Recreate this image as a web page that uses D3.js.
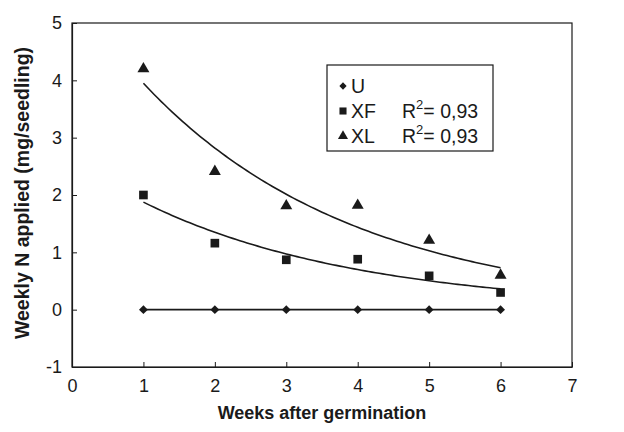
<!DOCTYPE html>
<html>
<head>
<meta charset="utf-8">
<script src="https://cdn.jsdelivr.net/npm/d3@7"></script>
<style>
  body { margin: 0; background: #fff; }
  svg { font-family: "Liberation Sans", Arial, sans-serif; }
</style>
</head>
<body>
<svg id="chart" width="624" height="432"></svg>
<script>
// weeks after germination
const weeks = [1, 2, 3, 4, 5, 6];
// weekly N applied, mg/seedling
const seriesU = [0, 0, 0, 0, 0, 0];
const seriesXF = [2.0, 1.16, 0.87, 0.88, 0.59, 0.30];
const seriesXL = [4.2, 2.41, 1.81, 1.82, 1.21, 0.60];
const xTicks = [0, 1, 2, 3, 4, 5, 6, 7];
const yTicks = [-1, 0, 1, 2, 3, 4, 5];

const svg = d3.select("#chart");
const m = { left: 72, right: 572, top: 23, bottom: 367 };
const ink = "#1a1a1a";

const x = d3.scaleLinear().domain([0, 7]).range([m.left, m.right]);
const y = d3.scaleLinear().domain([-1, 5]).range([m.bottom, m.top]);

// frame
svg.append("rect")
  .attr("x", m.left).attr("y", m.top)
  .attr("width", m.right - m.left).attr("height", m.bottom - m.top)
  .attr("fill", "none").attr("stroke", ink).attr("stroke-width", 1.2);

// axes, ticks pointing inward
const fmt = d => String(d);
const xAxis = svg.append("g").attr("transform", `translate(0,${m.bottom})`)
  .call(d3.axisBottom(x).tickValues(xTicks).tickFormat(fmt).tickSizeInner(-5).tickSizeOuter(0).tickPadding(12));
const yAxis = svg.append("g").attr("transform", `translate(${m.left},0)`)
  .call(d3.axisLeft(y).tickValues(yTicks).tickFormat(fmt).tickSizeInner(-5).tickSizeOuter(0).tickPadding(10));
[xAxis, yAxis].forEach(g => {
  g.select(".domain").attr("stroke", ink).attr("stroke-width", 1.2);
  g.selectAll(".tick line").attr("stroke", ink);
  g.selectAll(".tick text").attr("fill", ink)
    .style("font-size", "18px").style("font-family", "Liberation Sans, Arial, sans-serif");
});

// axis titles
svg.append("text")
  .attr("x", (m.left + m.right) / 2).attr("y", 419)
  .attr("text-anchor", "middle")
  .style("font-size", "18px").style("font-weight", "bold").attr("fill", ink)
  .text("Weeks after germination");
svg.append("text")
  .attr("transform", `translate(29,${(m.top + m.bottom) / 2 - 2}) rotate(-90)`)
  .attr("text-anchor", "middle")
  .style("font-size", "19.5px").style("font-weight", "bold").attr("fill", ink)
  .text("Weekly N applied (mg/seedling)");

// exponential trendline y = a*exp(b*x), log-linear least squares
function expFit(xs, ys) {
  const ly = ys.map(Math.log);
  const mx = d3.mean(xs), my = d3.mean(ly);
  const b = d3.sum(xs, (v, i) => (v - mx) * (ly[i] - my)) / d3.sum(xs, v => (v - mx) ** 2);
  const a = Math.exp(my - b * mx);
  return t => a * Math.exp(b * t);
}

const line = d3.line().x(d => x(d[0])).y(d => y(d[1]));
const grid = d3.range(1, 6.001, 0.05);

// U connected line
svg.append("path")
  .attr("d", line(weeks.map((w, i) => [w, seriesU[i]])))
  .attr("fill", "none").attr("stroke", ink).attr("stroke-width", 1.6);

[seriesXF, seriesXL].forEach(s => {
  const f = expFit(weeks, s);
  svg.append("path")
    .attr("d", line(grid.map(t => [t, f(t)])))
    .attr("fill", "none").attr("stroke", ink).attr("stroke-width", 1.6);
});

const sym = {
  U: d3.symbol().type(d3.symbolDiamond2).size(50),
  XF: d3.symbol().type(d3.symbolSquare).size(75),
  XL: d3.symbol().type(d3.symbolTriangle).size(62)
};

const series = [
  { key: "U", values: seriesU },
  { key: "XF", values: seriesXF },
  { key: "XL", values: seriesXL }
];

series.forEach(s => {
  svg.append("g").selectAll("path")
    .data(weeks)
    .join("path")
    .attr("transform", (w, i) => `translate(${x(w)},${y(s.values[i])})`)
    .attr("d", sym[s.key]())
    .attr("fill", ink);
});

// legend
const lg = svg.append("g");
lg.append("rect")
  .attr("x", 327).attr("y", 65).attr("width", 166).attr("height", 86)
  .attr("fill", "#fff").attr("stroke", ink).attr("stroke-width", 1.2);

const legendSym = {
  U: d3.symbol().type(d3.symbolDiamond2).size(34),
  XF: d3.symbol().type(d3.symbolSquare).size(50),
  XL: d3.symbol().type(d3.symbolTriangle).size(44)
};
const r2 = { U: null, XF: "0,93", XL: "0,93" };

series.forEach((s, i) => {
  const cy = 86 + i * 25;
  lg.append("path")
    .attr("transform", `translate(343,${cy})`)
    .attr("d", legendSym[s.key]())
    .attr("fill", ink);
  lg.append("text")
    .attr("x", 351).attr("y", cy + 7)
    .style("font-size", "19.5px").attr("fill", ink)
    .text(s.key);
  if (r2[s.key]) {
    const t = lg.append("text")
      .attr("x", 402).attr("y", cy + 7)
      .style("font-size", "19.5px").attr("fill", ink);
    t.append("tspan").text("R");
    t.append("tspan").attr("dy", -9).style("font-size", "13px").text("2");
    t.append("tspan").attr("dy", 9).text("= " + r2[s.key]);
  }
});
</script>
</body>
</html>
